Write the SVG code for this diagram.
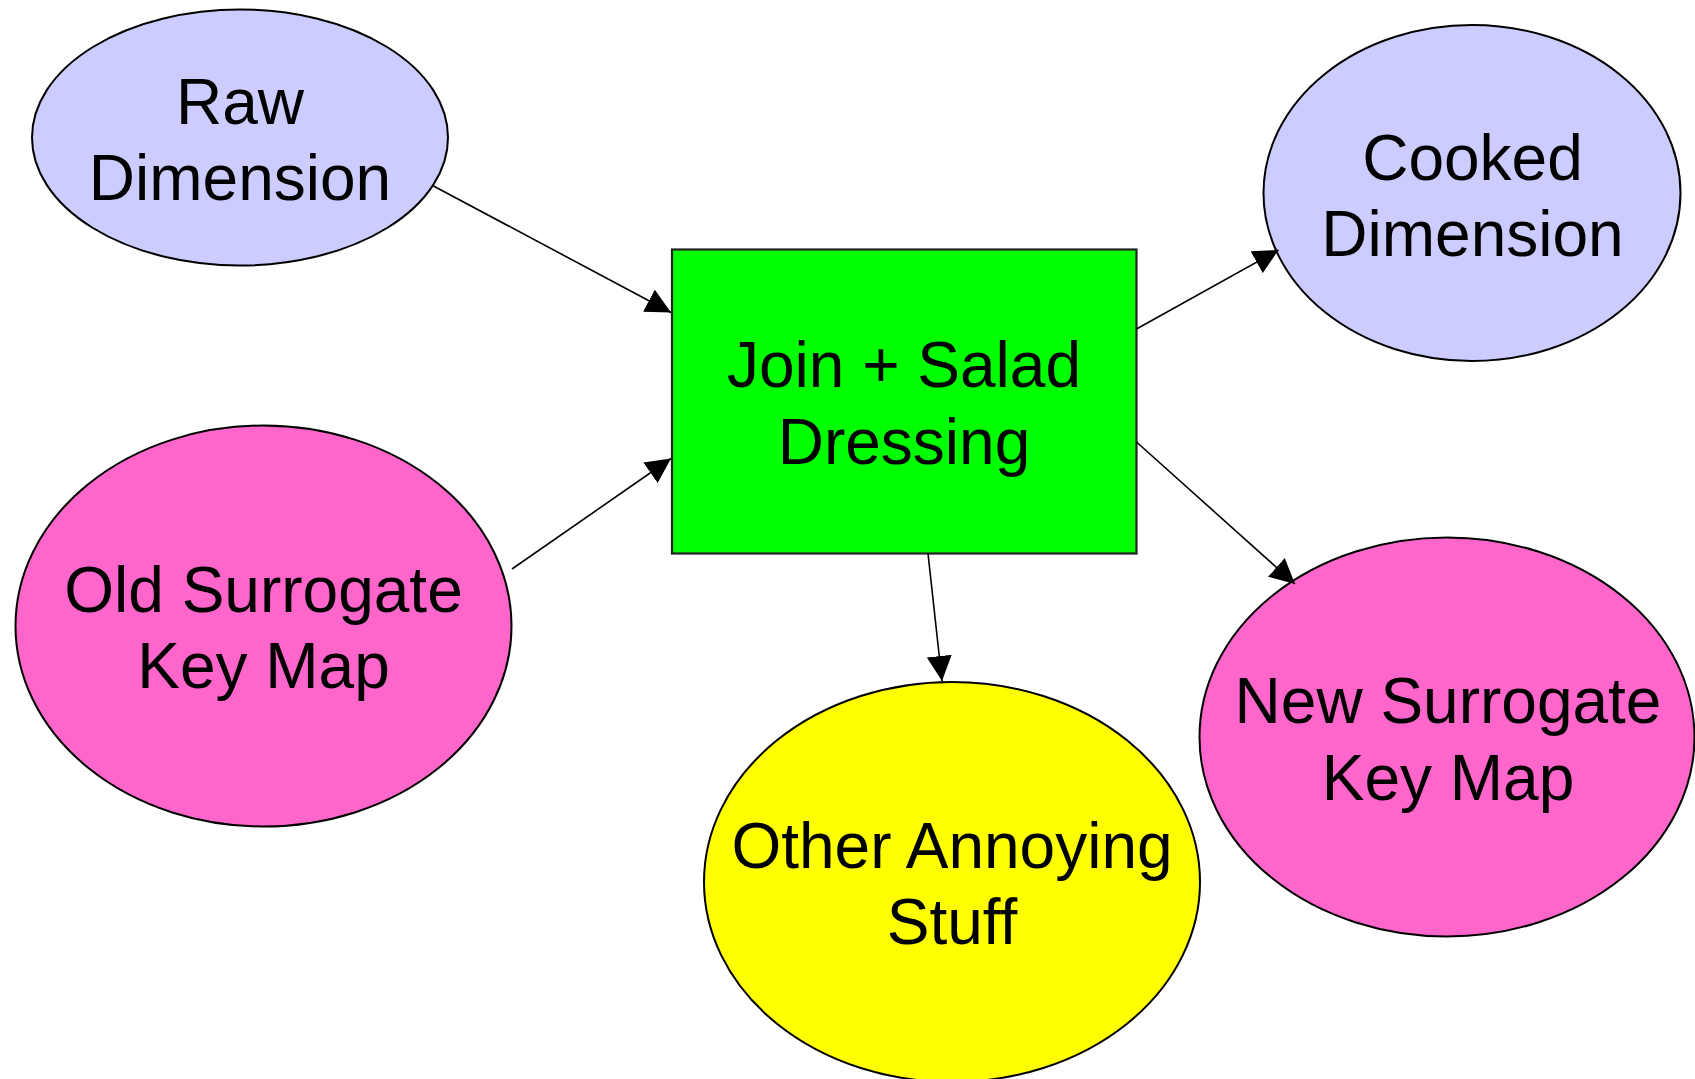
<svg xmlns="http://www.w3.org/2000/svg" width="1695" height="1079" viewBox="0 0 1695 1079">
  <style>
    .node { stroke: #000; stroke-width: 2; }
    .box { stroke: #222; stroke-width: 2.2; }
    .label { font-family: "Liberation Sans", Arial, sans-serif; font-size: 64px; fill: #000; text-anchor: middle; }
    .edge { stroke: #000; stroke-width: 1.6; fill: none; marker-end: url(#arrow); }
  </style>
  <defs>
    <marker id="arrow" markerUnits="userSpaceOnUse" markerWidth="25" markerHeight="25" refX="25" refY="12.5" orient="auto">
      <path d="M0,0 L25,12.5 L0,25 z" fill="#000"/>
    </marker>
  </defs>
  <rect width="1695" height="1079" fill="#fff"/>

  <g id="raw-dimension">
    <ellipse class="node" cx="240" cy="137.5" rx="208" ry="128" fill="#ccccff"/>
    <text class="label" x="240" y="124">Raw</text>
    <text class="label" x="240" y="200">Dimension</text>
  </g>

  <g id="cooked-dimension">
    <ellipse class="node" cx="1472" cy="193" rx="208.5" ry="168" fill="#ccccff"/>
    <text class="label" x="1472.5" y="179.5">Cooked</text>
    <text class="label" x="1472.5" y="255.5">Dimension</text>
  </g>

  <g id="old-surrogate-key-map">
    <ellipse class="node" cx="263.5" cy="626" rx="248" ry="200.5" fill="#ff66cc"/>
    <text class="label" x="263.5" y="611.5">Old Surrogate</text>
    <text class="label" x="263.5" y="687.5">Key Map</text>
  </g>

  <g id="new-surrogate-key-map">
    <ellipse class="node" cx="1447" cy="737" rx="247.5" ry="199.5" fill="#ff66cc"/>
    <text class="label" x="1448" y="723">New Surrogate</text>
    <text class="label" x="1448" y="799.5">Key Map</text>
  </g>

  <g id="other-annoying-stuff">
    <ellipse class="node" cx="952" cy="882" rx="248" ry="200" fill="#ffff00"/>
    <text class="label" x="952" y="867.5">Other Annoying</text>
    <text class="label" x="952" y="944">Stuff</text>
  </g>

  <g id="join-salad-dressing">
    <rect class="box" x="672" y="249.5" width="464.5" height="304" fill="#00ff00"/>
    <text class="label" x="904" y="387">Join + Salad</text>
    <text class="label" x="904" y="463.5">Dressing</text>
  </g>

  <g id="connectors">
    <line class="edge" x1="433.5" y1="186" x2="671" y2="312.5"/>
    <line class="edge" x1="512" y1="569" x2="671" y2="458.5"/>
    <line class="edge" x1="1136.5" y1="329" x2="1278.5" y2="250"/>
    <line class="edge" x1="1136.5" y1="442" x2="1295" y2="584"/>
    <line class="edge" x1="928" y1="553.5" x2="942" y2="681"/>
  </g>
</svg>
